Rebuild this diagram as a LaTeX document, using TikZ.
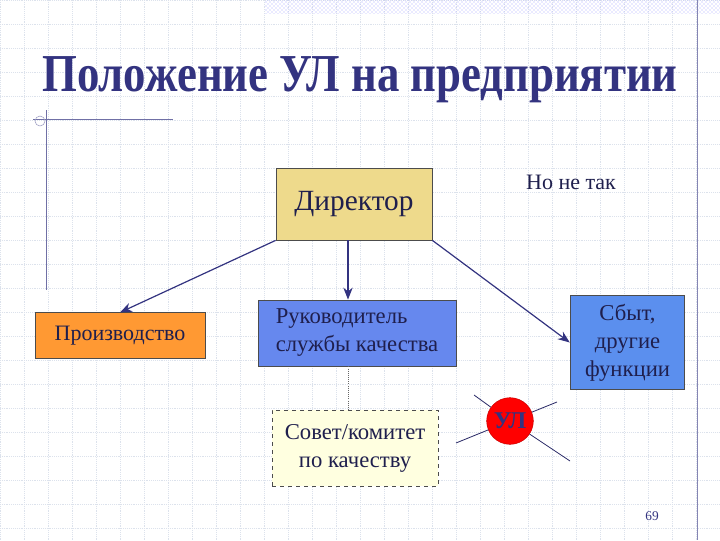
\documentclass[tikz,border=0pt]{standalone}
\usepackage{fontspec}
\setmainfont{Liberation Serif}
\usetikzlibrary{arrows.meta,patterns}
\definecolor{navy}{HTML}{333380}
\definecolor{gridc}{HTML}{DCE2EC}
\tikzset{
  box/.style={draw=black!70,line width=0.6pt,minimum width=0,inner sep=0pt},
  arr/.style={draw=navy,line width=0.9pt,-{Stealth[length=9pt,width=7pt]}},
  ray/.style={draw=navy!80!black,line width=0.6pt}
}
\begin{document}
\begin{tikzpicture}[x=0.75pt,y=-0.75pt]
\useasboundingbox (0,0) rectangle (720,540);
\fill[white] (0,0) rectangle (720,540);
\foreach \i in {0,24,...,720} \draw[gridc,densely dotted,line width=0.4pt] (\i,0) -- (\i,540);
\foreach \j in {0,24,...,540} \draw[gridc,densely dotted,line width=0.4pt] (0,\j) -- (720,\j);
\fill[pattern=crosshatch dots,pattern color=blue!35] (265,0) rectangle (720,13);
\draw[navy!60,line width=0.7pt] (697,0) -- (697,540);
\node[font=\bfseries\fontsize{40}{46}\selectfont,text=navy,xscale=0.84] (title) at (360,80) {Положение УЛ на предприятии};
\draw[navy!70,line width=0.7pt] (33,119) coordinate (l1) -- (173,119) coordinate (l2);
\draw[navy!70,line width=0.7pt] (46,110) coordinate (v1) -- (46,290) coordinate (v2);
\draw[navy!50,line width=0.4pt] (40,121) circle (5);
\node[box,fill={rgb,255:red,238;green,218;blue,140},minimum width=117pt,minimum height=54pt,font=\fontsize{22}{24}\selectfont,text=navy!60!black] (dir) at (354,204) {Директор};
\node[font=\fontsize{16.5}{19}\selectfont,text=navy!60!black] (no) at (571,182) {Но не так};
\node[box,fill={rgb,255:red,255;green,153;blue,51},minimum width=127.5pt,minimum height=34pt,font=\fontsize{16.5}{19}\selectfont,text=navy!60!black] (pr) at (120,335.5) {Производство};
\node[box,fill={rgb,255:red,102;green,136;blue,238},minimum width=148.5pt,minimum height=49.5pt,font=\fontsize{17}{21}\selectfont,text=navy!60!black,align=left] (rk) at (357,333) {Руководитель\\службы качества};
\node[box,fill={rgb,255:red,91;green,143;blue,238},minimum width=86pt,minimum height=71pt,font=\fontsize{17}{21}\selectfont,text=navy!60!black,align=center] (sb) at (627.5,342.5) {Сбыт,\\другие\\функции};
\node[box,dashed,fill={rgb,255:red,255;green,255;blue,224},minimum width=124.5pt,minimum height=57pt,font=\fontsize{17}{21}\selectfont,text=navy!60!black,align=center] (sv) at (355,448) {Совет/комитет\\по качеству};
\draw[black!60,densely dotted,line width=0.6pt] (rk.south -| 348,0) -- (sv.north -| 348,0);
\draw[arr] (dir.south west) -- (pr.north);
\draw[arr] (dir.south -| 348,0) -- (rk.north -| 348,0);
\draw[arr] (dir.south east) -- (sb.west);
\coordinate (r1) at (474,395);
\coordinate (r2) at (456,443);
\coordinate (r3) at (557,402);
\coordinate (r4) at (570,461);
\node[circle,fill=red,draw=red!80!black,minimum size=35pt,inner sep=0pt,font=\bfseries\fontsize{18}{20}\selectfont,text=navy] (ul) at (510,421) {УЛ};
\draw[ray] (r1) -- (ul);
\draw[ray] (r2) -- (ul);
\draw[ray] (r3) -- (ul);
\draw[ray] (r4) -- (ul);
\node[font=\fontsize{10}{12}\selectfont,text=navy] (pg) at (652,516) {69};
\end{tikzpicture}
\end{document}
